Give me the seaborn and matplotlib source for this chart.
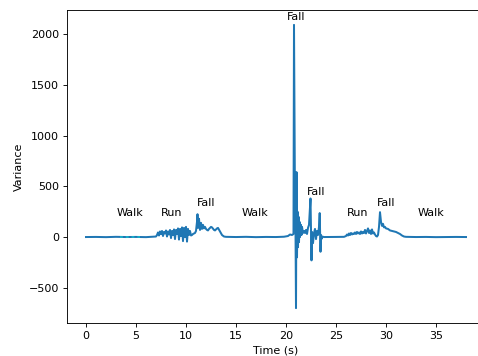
import matplotlib
matplotlib.use("Agg")
import matplotlib.pyplot as plt
import seaborn as sns
import pandas as pd

# Variance of the accelerometer signal over the recording
time_s = [
    0.0, 1.0, 2.0, 3.0, 4.0, 5.0, 6.0, 6.8,
    7.0, 7.1, 7.2, 7.3, 7.4, 7.5, 7.6, 7.7, 7.8, 7.9,
    8.0, 8.1, 8.2, 8.3, 8.4, 8.5, 8.6, 8.7, 8.8, 8.9,
    9.0, 9.1, 9.2, 9.3, 9.4, 9.5, 9.6, 9.7, 9.8, 9.9,
    10.0, 10.1, 10.2, 10.3, 10.4, 10.5, 10.6, 10.7, 10.8, 10.9,
    11.0, 11.1, 11.15, 11.2, 11.3, 11.4, 11.5, 11.6, 11.7, 11.8, 11.9,
    12.0, 12.1, 12.2, 12.3, 12.5, 12.6, 12.8, 12.9, 13.1, 13.2, 13.4, 13.6, 13.8, 14.0,
    15.0, 16.0, 17.0, 18.0, 19.0, 19.8, 20.2, 20.4, 20.6, 20.75,
    20.8, 20.9, 20.95, 21.0, 21.05, 21.1, 21.15, 21.2, 21.25, 21.3, 21.35, 21.4,
    21.5, 21.55, 21.6, 21.7, 21.8, 21.9, 22.0, 22.1, 22.2, 22.3, 22.45, 22.55,
    22.6, 22.7, 22.8, 22.9, 23.0, 23.1, 23.2, 23.3, 23.37, 23.45, 23.5, 23.55, 23.6, 23.8,
    24.0, 25.0, 25.8, 26.0, 26.1, 26.2, 26.3, 26.4, 26.5, 26.6, 26.7, 26.8, 26.9,
    27.0, 27.1, 27.2, 27.3, 27.4, 27.5, 27.6, 27.7, 27.8, 27.9,
    28.0, 28.1, 28.2, 28.3, 28.4, 28.5, 28.6, 28.7, 28.8, 28.9,
    29.0, 29.1, 29.2, 29.3, 29.4, 29.5, 29.6, 29.7, 29.8, 29.9,
    30.0, 30.2, 30.4, 30.6, 30.8, 31.0, 31.2, 31.4, 31.6, 31.8, 32.0,
    33.0, 34.0, 35.0, 36.0, 37.0, 38.0,
]
variance = [
    0, 1, -1, 2, 0, 1, -1, 3,
    5, 20, 45, 15, 55, 30, 60, 10, 50, 35,
    65, 5, 55, 25, 70, -10, 60, 20, 75, -20,
    70, 30, 85, -25, 80, 10, 95, -40, 90, 0,
    100, -45, 80, 20, 60, 15, 20, 30, 35, 40,
    60, 150, 225, 90, 180, 70, 140, 80, 120, 85, 100,
    80, 70, 65, 80, 100, 95, 70, 65, 85, 90, 55, 20, 5, 2,
    0, 2, -1, 1, 0, 3, 10, 25, 20, 30,
    2090, 300, 100, -700, 640, -200, 250, -100, 200, -50, 150, 0,
    120, 20, 100, 40, 60, 40, 70, 30, 90, 120, 380, -230,
    50, -60, 40, 80, -20, 60, 20, 100, 236, -145, 20, -20, 5, 0,
    0, 1, 2, 10, 25, 15, 35, 20, 40, 25, 35, 30, 45,
    30, 50, 35, 45, 30, 55, 35, 50, 40, 70,
    35, 60, 85, 40, 65, 30, 75, 35, 45, 25,
    10, 5, 20, 100, 245, 150, 110, 130, 95, 100,
    85, 80, 65, 60, 55, 50, 40, 30, 15, 5, 2,
    0, 1, -1, 0, 1, 0,
]

# Short highlighted walking stretch
walk_time_s = [3.4, 3.8, 4.2, 4.6, 5.0, 5.4]
walk_variance = [0, 1, 0, 1, 0, 1]

# Activity labels and where they sit
labels = ["Walk", "Run", "Fall", "Walk", "Fall", "Fall", "Run", "Fall", "Walk"]
label_t = [4.4, 8.6, 12.0, 16.9, 21.0, 23.0, 27.2, 30.0, 34.5]
label_v = [236, 236, 335, 236, 2167, 443, 236, 335, 236]

df = pd.DataFrame({"Time (s)": time_s, "Variance": variance})
walk_df = pd.DataFrame({"Time (s)": walk_time_s, "Variance": walk_variance})

fig = plt.figure(figsize=(478 / 80, 356 / 80), dpi=80)
# axes run a little past the right edge of the canvas
ax = fig.add_axes([67 / 478, 33 / 356, 418 / 478, 313 / 356])

sns.lineplot(data=df, x="Time (s)", y="Variance", ax=ax, color="#1f77b4",
             linewidth=1.8)
sns.lineplot(data=walk_df, x="Time (s)", y="Variance", ax=ax, color="#17becf",
             linewidth=1.3, linestyle=(0, (2, 2)))

for txt, t, v in zip(labels, label_t, label_v):
    ax.text(t, v, txt, ha="center", va="center", fontsize=10)

ax.set_xlim(-1.9, 39.9)
ax.set_ylim(-847, 2237)
ax.set_xlabel("Time (s)", fontsize=10)
ax.set_ylabel("Variance", fontsize=10)
ax.set_xticks([0, 5, 10, 15, 20, 25, 30, 35])
ax.set_yticks([-500, 0, 500, 1000, 1500, 2000])
ax.tick_params(labelsize=10)

fig.savefig("out.png", dpi=80)
